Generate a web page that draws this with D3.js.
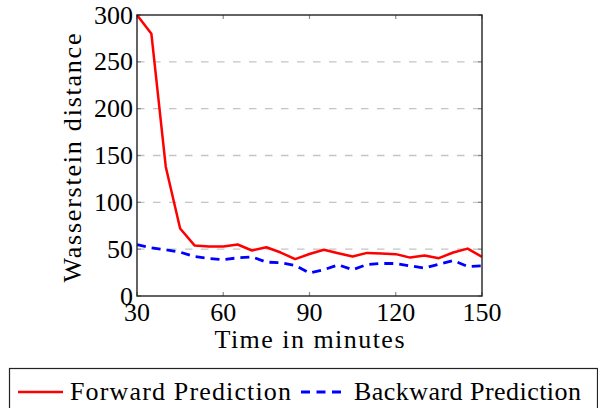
<!DOCTYPE html>
<html>
<head>
<meta charset="utf-8">
<script src="https://cdn.jsdelivr.net/npm/d3@7/dist/d3.min.js"></script>
<style>
  html, body { margin: 0; padding: 0; background: #fff; }
</style>
</head>
<body>
<svg id="s" width="598" height="408"></svg>
<script>
// Time points (minutes)
const minutes = [30, 35, 40, 45, 50, 55, 60, 65, 70, 75, 80, 85, 90, 95, 100, 105, 110, 115, 120, 125, 130, 135, 140, 145, 150];
// Wasserstein distance of the forward prediction
const forward = [300, 280, 138, 72, 54, 52.8, 52.8, 55, 48.6, 52, 46.4, 39.4, 44.8, 49.3, 45.7, 42.1, 46, 45.3, 44.7, 41, 43.2, 40.4, 46.4, 50.6, 41.8];
// Wasserstein distance of the backward prediction
const backward = [54.9, 51.4, 49.3, 46.8, 42.1, 40, 38.9, 40.7, 41.8, 36.2, 35.4, 32.6, 24.5, 28, 33.3, 28, 33.6, 34.7, 34.7, 32.2, 29.8, 34, 37.9, 31.5, 32.2];
const xTicks = [30, 60, 90, 120, 150];
const yTicks = [0, 50, 100, 150, 200, 250, 300];
const seriesNames = ["Forward Prediction", "Backward Prediction"];

const FONT = '"Liberation Serif"';

const svg = d3.select("#s");
const plot = { left: 137, right: 482, top: 15, bottom: 296 };

const x = d3.scaleLinear().domain([30, 150]).range([plot.left, plot.right]);
const y = d3.scaleLinear().domain([0, 300]).range([plot.bottom, plot.top]);

// text helper: serif face at the given size
function label(sel, size) {
  return sel.attr("font-family", "Liberation Serif").style("font-family", FONT).attr("font-size", size).attr("fill", "#000");
}

// tick labels
svg.append("g")
  .selectAll("text")
  .data(xTicks)
  .join("text")
  .call(label, 26)
  .attr("x", d => x(d))
  .attr("y", 321)
  .attr("text-anchor", "middle")
  .text(d => d);

svg.append("g")
  .selectAll("text")
  .data(yTicks)
  .join("text")
  .call(label, 26)
  .attr("x", 133)
  .attr("y", d => y(d) + 8.5)
  .attr("text-anchor", "end")
  .text(d => d);

// axis titles
svg.append("text")
  .call(label, 26)
  .attr("x", (plot.left + plot.right) / 2)
  .attr("y", 348)
  .attr("text-anchor", "middle")
  .attr("textLength", 190)
  .attr("lengthAdjust", "spacing")
  .text("Time in minutes");

svg.append("text")
  .call(label, 26)
  .attr("transform", "translate(81,158) rotate(-90)")
  .attr("text-anchor", "middle")
  .attr("textLength", 249)
  .attr("lengthAdjust", "spacing")
  .text("Wasserstein distance");

// horizontal dashed grid
svg.append("g")
  .selectAll("line")
  .data(yTicks.filter(v => v > 0 && v < 300))
  .join("line")
  .attr("x1", plot.left).attr("x2", plot.right)
  .attr("y1", d => y(d)).attr("y2", d => y(d))
  .attr("stroke", "#c4c4c4")
  .attr("stroke-width", 1.3)
  .attr("stroke-dasharray", "7.5,8.5");

// inward tick marks on all four sides
const tickLen = 4;
const ticks = svg.append("g").attr("stroke", "#8a8a8a").attr("stroke-width", 1.2);
xTicks.forEach(v => {
  ticks.append("line").attr("x1", x(v)).attr("x2", x(v)).attr("y1", plot.bottom).attr("y2", plot.bottom - tickLen);
  ticks.append("line").attr("x1", x(v)).attr("x2", x(v)).attr("y1", plot.top).attr("y2", plot.top + tickLen);
});
yTicks.forEach(v => {
  ticks.append("line").attr("x1", plot.left).attr("x2", plot.left + tickLen).attr("y1", y(v)).attr("y2", y(v));
  ticks.append("line").attr("x1", plot.right).attr("x2", plot.right - tickLen).attr("y1", y(v)).attr("y2", y(v));
});

// series lines
const line = d3.line().x((d, i) => x(minutes[i])).y(d => y(d));
svg.append("path")
  .datum(backward)
  .attr("d", line)
  .attr("fill", "none")
  .attr("stroke", "#0000ff")
  .attr("stroke-width", 2.8)
  .attr("stroke-dasharray", "9,6");
svg.append("path")
  .datum(forward)
  .attr("d", line)
  .attr("fill", "none")
  .attr("stroke", "#ff0000")
  .attr("stroke-width", 2.5)
  .attr("stroke-linejoin", "round");

// frame
svg.append("rect")
  .attr("x", plot.left).attr("y", plot.top)
  .attr("width", plot.right - plot.left).attr("height", plot.bottom - plot.top)
  .attr("fill", "none")
  .attr("stroke", "#222")
  .attr("stroke-width", 1.4);

// legend
const legend = svg.append("g");
legend.append("rect")
  .attr("x", 9.5).attr("y", 368.5)
  .attr("width", 588).attr("height", 45)
  .attr("fill", "#fff")
  .attr("stroke", "#222")
  .attr("stroke-width", 1.2);
legend.append("line")
  .attr("x1", 18).attr("x2", 63).attr("y1", 392).attr("y2", 392)
  .attr("stroke", "#ff0000").attr("stroke-width", 2.5);
legend.append("text")
  .call(label, 26)
  .attr("x", 70).attr("y", 400)
  .attr("textLength", 221)
  .attr("lengthAdjust", "spacing")
  .text(seriesNames[0]);
legend.append("line")
  .attr("x1", 301).attr("x2", 341).attr("y1", 392).attr("y2", 392)
  .attr("stroke", "#0000ff").attr("stroke-width", 2.8)
  .attr("stroke-dasharray", "9,6.5");
legend.append("text")
  .call(label, 26)
  .attr("x", 354).attr("y", 400)
  .attr("textLength", 227)
  .attr("lengthAdjust", "spacing")
  .text(seriesNames[1]);
</script>
</body>
</html>
